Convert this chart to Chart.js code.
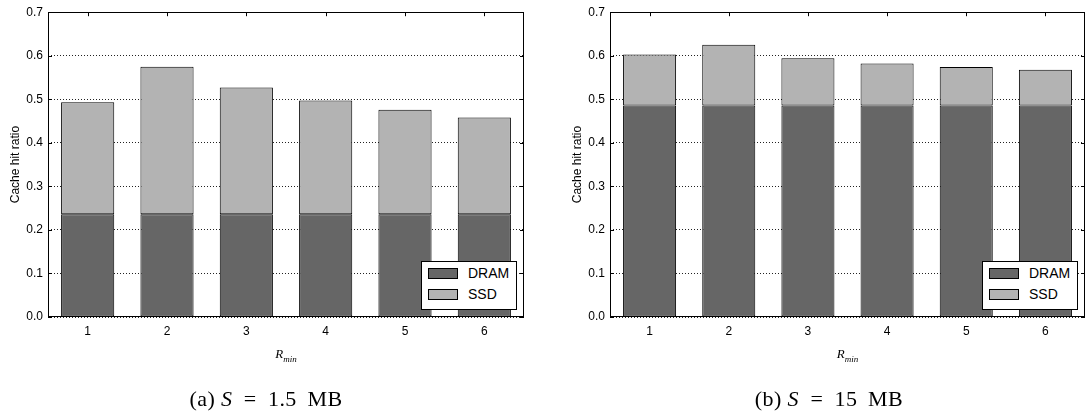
<!DOCTYPE html>
<html lang="en">
<head>
<meta charset="UTF-8">
<title>Cache hit ratio vs R_min</title>
<script src="https://cdn.jsdelivr.net/npm/chart.js"></script>
<style>
  body { margin: 0; background: #fff; }
  #wrap { position: relative; width: 1088px; height: 415px; overflow: hidden; }
  .panel { position: absolute; top: 0; height: 360px; }
  .panel canvas { position: absolute; left: 0; top: 0; }
  .legend { position: absolute; background: #fff; border: 1px solid #000; box-sizing: border-box;
            width: 96px; padding: 5px 0 0 6px; font: 14px "Liberation Sans", Arial, sans-serif; }
  .legend div { height: 21px; line-height: 13px; white-space: nowrap; }
  .legend span.sw { display: inline-block; width: 30px; height: 11px; border: 1px solid #000;
                    box-sizing: border-box; vertical-align: -1px; margin-right: 10px; }
  .xlab { position: absolute; top: 346px; font: italic 13px "Liberation Serif", "DejaVu Serif", serif;
          transform: translateX(-50%); white-space: nowrap; }
  .xlab sub { font-size: 9px; }
  .caption { position: absolute; top: 386px; font: 22px "Liberation Serif", "DejaVu Serif", serif;
             letter-spacing: 0.4px; transform: translateX(-50%); white-space: nowrap; }
</style>
</head>
<body>
<div id="wrap">
  <div class="panel" id="p0" style="left:0;width:540px"><canvas id="c0" width="540" height="360"></canvas></div>
  <div class="panel" id="p1" style="left:562px;width:526px"><canvas id="c1" width="526" height="360"></canvas></div>
  <div class="caption" style="left:266px">(a) <i>S</i>&ensp;=&ensp;1.5&thinsp;&nbsp;MB</div>
  <div class="caption" style="left:829px">(b) <i>S</i>&ensp;=&ensp;15&thinsp;&nbsp;MB</div>
</div>
<script>
// data
const categories = ['1', '2', '3', '4', '5', '6'];
const seriesLabels = ['DRAM', 'SSD'];
const seriesColors = ['#666666', '#b3b3b3'];

// (a) S = 1.5 MB
const dramA = [0.236, 0.236, 0.236, 0.236, 0.236, 0.236];
const ssdA = [0.257, 0.339, 0.291, 0.261, 0.240, 0.222];

// (b) S = 15 MB
const dramB = [0.486, 0.486, 0.486, 0.486, 0.486, 0.486];
const ssdB = [0.117, 0.139, 0.108, 0.096, 0.088, 0.082];

const yMax = 0.7;
const yStep = 0.1;

Chart.defaults.font.family = '"Liberation Sans", Arial, sans-serif';
Chart.defaults.color = '#000';

// box around the plot + small inward ticks
const framePlugin = {
    id: 'frame',
    afterDatasetsDraw(chart) {
        const ctx = chart.ctx;
        const a = chart.chartArea;
        const x = chart.scales.x, y = chart.scales.y;
        ctx.save();
        ctx.strokeStyle = '#000';
        ctx.lineWidth = 1;
        ctx.beginPath();
        y.ticks.forEach(t => {
            const py = Math.round(y.getPixelForValue(t.value)) + 0.5;
            ctx.moveTo(a.left, py); ctx.lineTo(a.left + 4, py);
            ctx.moveTo(a.right, py); ctx.lineTo(a.right - 4, py);
        });
        x.ticks.forEach((t, i) => {
            const px = Math.round(x.getPixelForValue(i)) + 0.5;
            ctx.moveTo(px, a.top); ctx.lineTo(px, a.top + 4);
        });
        ctx.stroke();
        ctx.strokeRect(Math.round(a.left) + 0.5, Math.round(a.top) + 0.5,
                       Math.round(a.right - a.left) - 1, Math.round(a.bottom - a.top) - 1);
        ctx.restore();
    }
};

function makeChart(canvasId, panelId, dram, ssd, padRight) {
    const chart = new Chart(document.getElementById(canvasId), {
        type: 'bar',
        data: {
            labels: categories,
            datasets: [
                { label: seriesLabels[0], data: dram, backgroundColor: seriesColors[0],
                  borderColor: '#000', borderWidth: 1, borderSkipped: false },
                { label: seriesLabels[1], data: ssd, backgroundColor: seriesColors[1],
                  borderColor: '#000', borderWidth: 1, borderSkipped: false }
            ]
        },
        options: {
            responsive: false,
            animation: false,
            datasets: { bar: { barPercentage: 0.67, categoryPercentage: 1.0 } },
            layout: { padding: { left: 0, right: padRight, top: 10, bottom: 0 } },
            plugins: { legend: { display: false }, tooltip: { enabled: false } },
            scales: {
                x: {
                    stacked: true,
                    grid: { display: false, drawTicks: false },
                    border: { display: false },
                    ticks: { font: { size: 12 }, padding: 7 },
                    afterFit(scale) { scale.height = 43; }
                },
                y: {
                    stacked: true,
                    min: 0,
                    max: yMax,
                    grid: { color: '#222', lineWidth: 1, drawTicks: false, borderDash: [1, 2] },
                    border: { display: false, dash: [1, 2] },
                    ticks: { stepSize: yStep, padding: 5, font: { size: 12 },
                             callback: v => v.toFixed(1) },
                    title: { display: true, text: 'Cache hit ratio', font: { size: 12 },
                             padding: { top: 8, bottom: 0 } },
                    afterFit(scale) { scale.width = 48; }
                }
            }
        },
        plugins: [framePlugin]
    });

    const panel = document.getElementById(panelId);
    const a = chart.chartArea;
    const pw = panel.offsetWidth, ph = panel.offsetHeight;

    // legend in the lower right corner of the plot
    const leg = document.createElement('div');
    leg.className = 'legend';
    leg.style.right = (pw - a.right + 7) + 'px';
    leg.style.bottom = (ph - a.bottom + 7) + 'px';
    seriesLabels.forEach((lab, i) => {
        const row = document.createElement('div');
        const sw = document.createElement('span');
        sw.className = 'sw';
        sw.style.background = seriesColors[i];
        row.appendChild(sw);
        row.appendChild(document.createTextNode(lab));
        leg.appendChild(row);
    });
    panel.appendChild(leg);

    // x axis label R_min
    const xl = document.createElement('div');
    xl.className = 'xlab';
    xl.style.left = ((a.left + a.right) / 2) + 'px';
    xl.innerHTML = 'R<sub>min</sub>';
    panel.appendChild(xl);
    return chart;
}

makeChart('c0', 'p0', dramA, ssdA, 16);
makeChart('c1', 'p1', dramB, ssdB, 3);
</script>
</body>
</html>
